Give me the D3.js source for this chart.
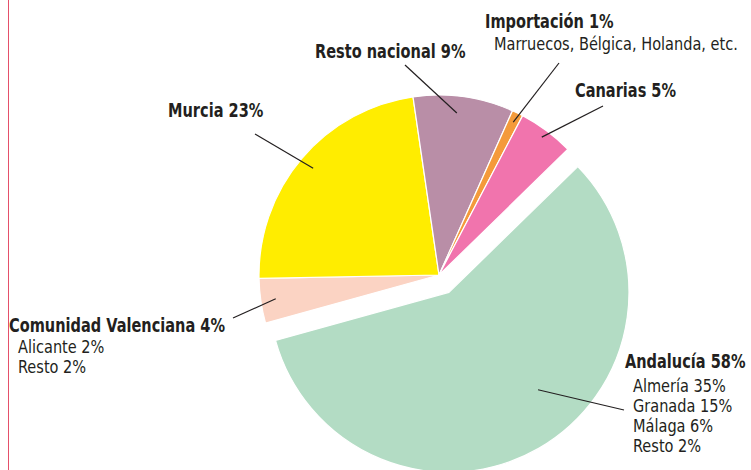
<html>
<head>
<script src="https://d3js.org/d3.v7.min.js"></script>
<style>
  body { margin: 0; background: #fff; }
  text { font-family: "DejaVu Sans Condensed", "Liberation Sans Narrow", sans-serif; fill: #231f20; }
  .title { font-weight: bold; font-size: 19.5px; }
  .sub { font-size: 17px; }
</style>
</head>
<body>
<script>
// data
const categories = ["Andalucía", "Comunidad Valenciana", "Murcia", "Resto nacional", "Importación", "Canarias"];
const shares = [58, 4, 23, 9, 1, 5];
const details = [
  ["Almería 35%", "Granada 15%", "Málaga 6%", "Resto 2%"],
  ["Alicante 2%", "Resto 2%"],
  [],
  [],
  ["Marruecos, Bélgica, Holanda, etc."],
  []
];
const colors = ["#b3dcc4", "#fbd3c3", "#ffed00", "#b98ea7", "#f49a3b", "#f174ad"];

// label layout (title position, leader end, anchor radius + fraction of slice)
const layout = [
  { x: 625, y: 368, lx: 624, ly: 410, r: 132, t: 0.44, dx: 8, gap: 24 },
  { x: 9, y: 332, lx: 233, ly: 318, r: 165, t: 0.5, dx: 9, gap: 21 },
  { x: 168, y: 117, lx: 255, ly: 134, r: 165, t: 0.5, dx: 0, gap: 20 },
  { x: 315, y: 58, lx: 405, ly: 65, r: 163, t: 0.45, dx: 0, gap: 20 },
  { x: 485, y: 28, lx: 559, ly: 63, r: 170, t: 0.5, dx: 9, gap: 22 },
  { x: 575, y: 97, lx: 603, ly: 106, r: 172, t: 0.5, dx: 0, gap: 20 }
];

const W = 751, H = 470;
const cx = 439, cy = 275, R = 180;
const explode = 20;
const squeezeTitle = 0.83; // condensed look
const squeezeSub = 0.95;

const svg = d3.select("body").append("svg")
  .attr("width", W).attr("height", H);

// red margin line on the left
svg.append("line")
  .attr("x1", 8.5).attr("x2", 8.5)
  .attr("y1", 0).attr("y2", H)
  .attr("stroke", "#e5506a").attr("stroke-width", 1);

const start = 45.7 * Math.PI / 180;
const pie = d3.pie().sort(null).value(d => d)
  .startAngle(start).endAngle(start + 2 * Math.PI);
const arcs = pie(shares);
const arc = d3.arc().innerRadius(0).outerRadius(R);

function offset(d, i) {
  if (i !== 0) return [0, 0];
  const m = (d.startAngle + d.endAngle) / 2;
  return [explode * Math.sin(m), -explode * Math.cos(m)];
}

const g = svg.append("g").attr("transform", `translate(${cx},${cy})`);

g.selectAll("path")
  .data(arcs)
  .enter()
  .append("path")
  .attr("d", arc)
  .attr("transform", (d, i) => "translate(" + offset(d, i) + ")")
  .attr("fill", (d, i) => colors[i])
  .attr("stroke", "#fff")
  .attr("stroke-width", 1.2)
  .attr("stroke-linejoin", "round");

// leader lines
arcs.forEach((d, i) => {
  const L = layout[i];
  const a = d.startAngle + (d.endAngle - d.startAngle) * L.t;
  const o = offset(d, i);
  const px = cx + o[0] + L.r * Math.sin(a);
  const py = cy + o[1] - L.r * Math.cos(a);
  svg.append("line")
    .attr("x1", L.lx).attr("y1", L.ly)
    .attr("x2", px).attr("y2", py)
    .attr("stroke", "#231f20").attr("stroke-width", 1.2);
});

// labels
arcs.forEach((d, i) => {
  const L = layout[i];
  svg.append("text").attr("class", "title")
    .attr("transform", `translate(${L.x},${L.y}) scale(${squeezeTitle},1)`)
    .text(categories[i] + " " + shares[i] + "%");
  details[i].forEach((s, j) => {
    svg.append("text").attr("class", "sub")
      .attr("transform", `translate(${L.x + L.dx},${L.y + L.gap + j * 20}) scale(${squeezeSub},1)`)
      .text(s);
  });
});
</script>
</body>
</html>
